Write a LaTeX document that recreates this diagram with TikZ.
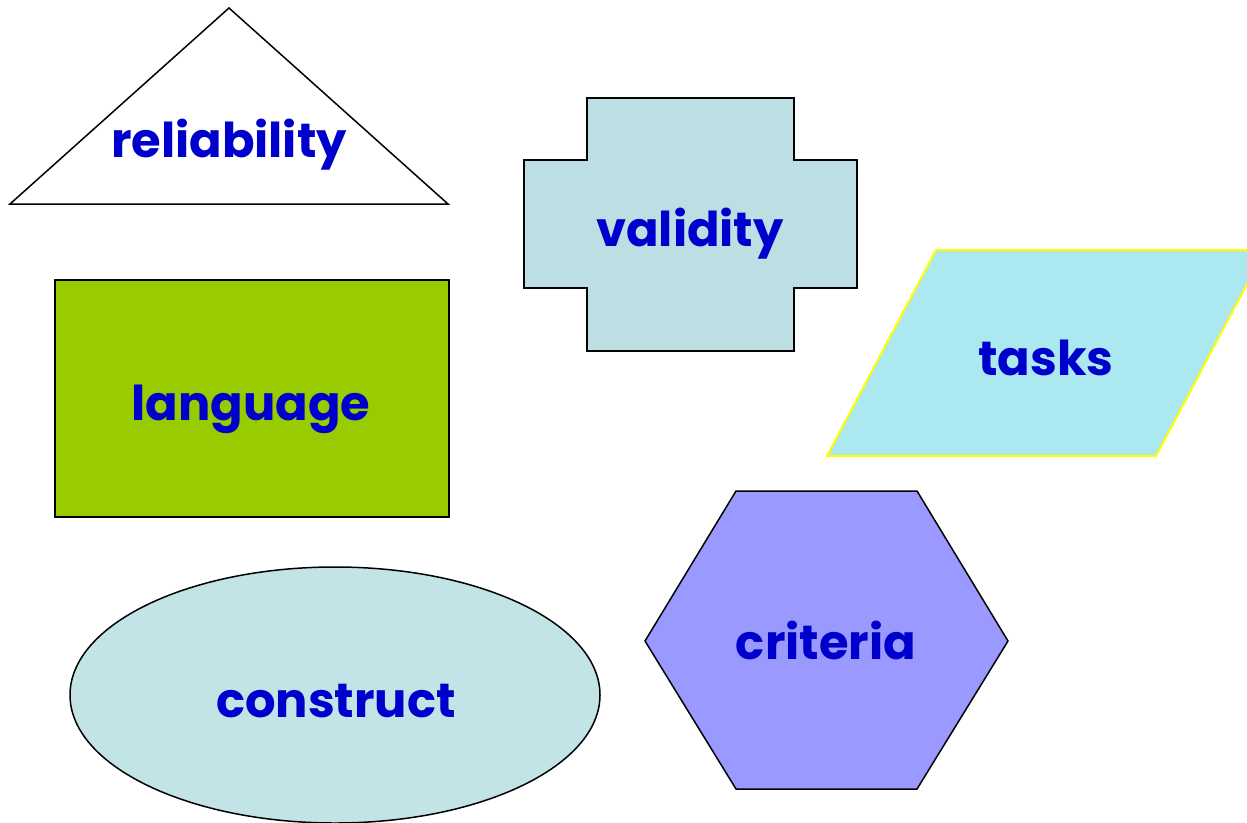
\documentclass[tikz,border=0pt]{standalone}
\usepackage{fontspec}
\setmainfont{Poppins}[BoldFont={* Bold}]
\definecolor{txtblue}{HTML}{0000CC}
\definecolor{crossfill}{HTML}{BCDFE4}
\definecolor{taskfill}{HTML}{ACE8EF}
\definecolor{hexfill}{HTML}{9999FF}
\definecolor{langfill}{HTML}{99CC00}
\definecolor{ellfill}{HTML}{C2E4E7}
\definecolor{taskline}{HTML}{FFFF00}
\tikzset{
  shapeline/.style={draw=black, line width=1.5pt, line join=miter},
  lbl/.style={anchor=base, text=txtblue, font=\bfseries\fontsize{48}{58}\selectfont, inner sep=0pt},
}
\begin{document}
\begin{tikzpicture}[x=1pt,y=-1pt]
\useasboundingbox (0,0) rectangle (1247,822);
\begin{scope}
\clip (0,0) rectangle (1247,822);
% triangle
\draw[shapeline, fill=white] (229,8) -- (448,204) -- (10,204) -- cycle;
% cross
\draw[shapeline, fill=crossfill] (587,98) -- (794,98) -- (794,160) -- (857,160) -- (857,288) -- (794,288) -- (794,351) -- (587,351) -- (587,288) -- (524,288) -- (524,160) -- (587,160) -- cycle;
% parallelogram
\draw[draw=taskline, line width=2pt, fill=taskfill] (936,250) -- (1265,250) -- (1156,456) -- (827,456) -- cycle;
% rectangle
\draw[shapeline, fill=langfill] (55,280) rectangle (449,517);
% ellipse
\draw[shapeline, fill=ellfill] (335,695) ellipse [x radius=265, y radius=128];
% hexagon
\draw[shapeline, fill=hexfill] (645,641) -- (736,491) -- (917,491) -- (1008,641) -- (917,789) -- (736,789) -- cycle;
\end{scope}
\node[lbl] (reliability) at (229,157) {reliability};
\node[lbl] (validity) at (690,246) {validity};
\node[lbl] (tasks) at (1046,375) {tasks};
\node[lbl] (language) at (251,420) {language};
\node[lbl] (construct) at (336,717) {construct};
\node[lbl] (criteria) at (826,659) {criteria};
\end{tikzpicture}
\end{document}
